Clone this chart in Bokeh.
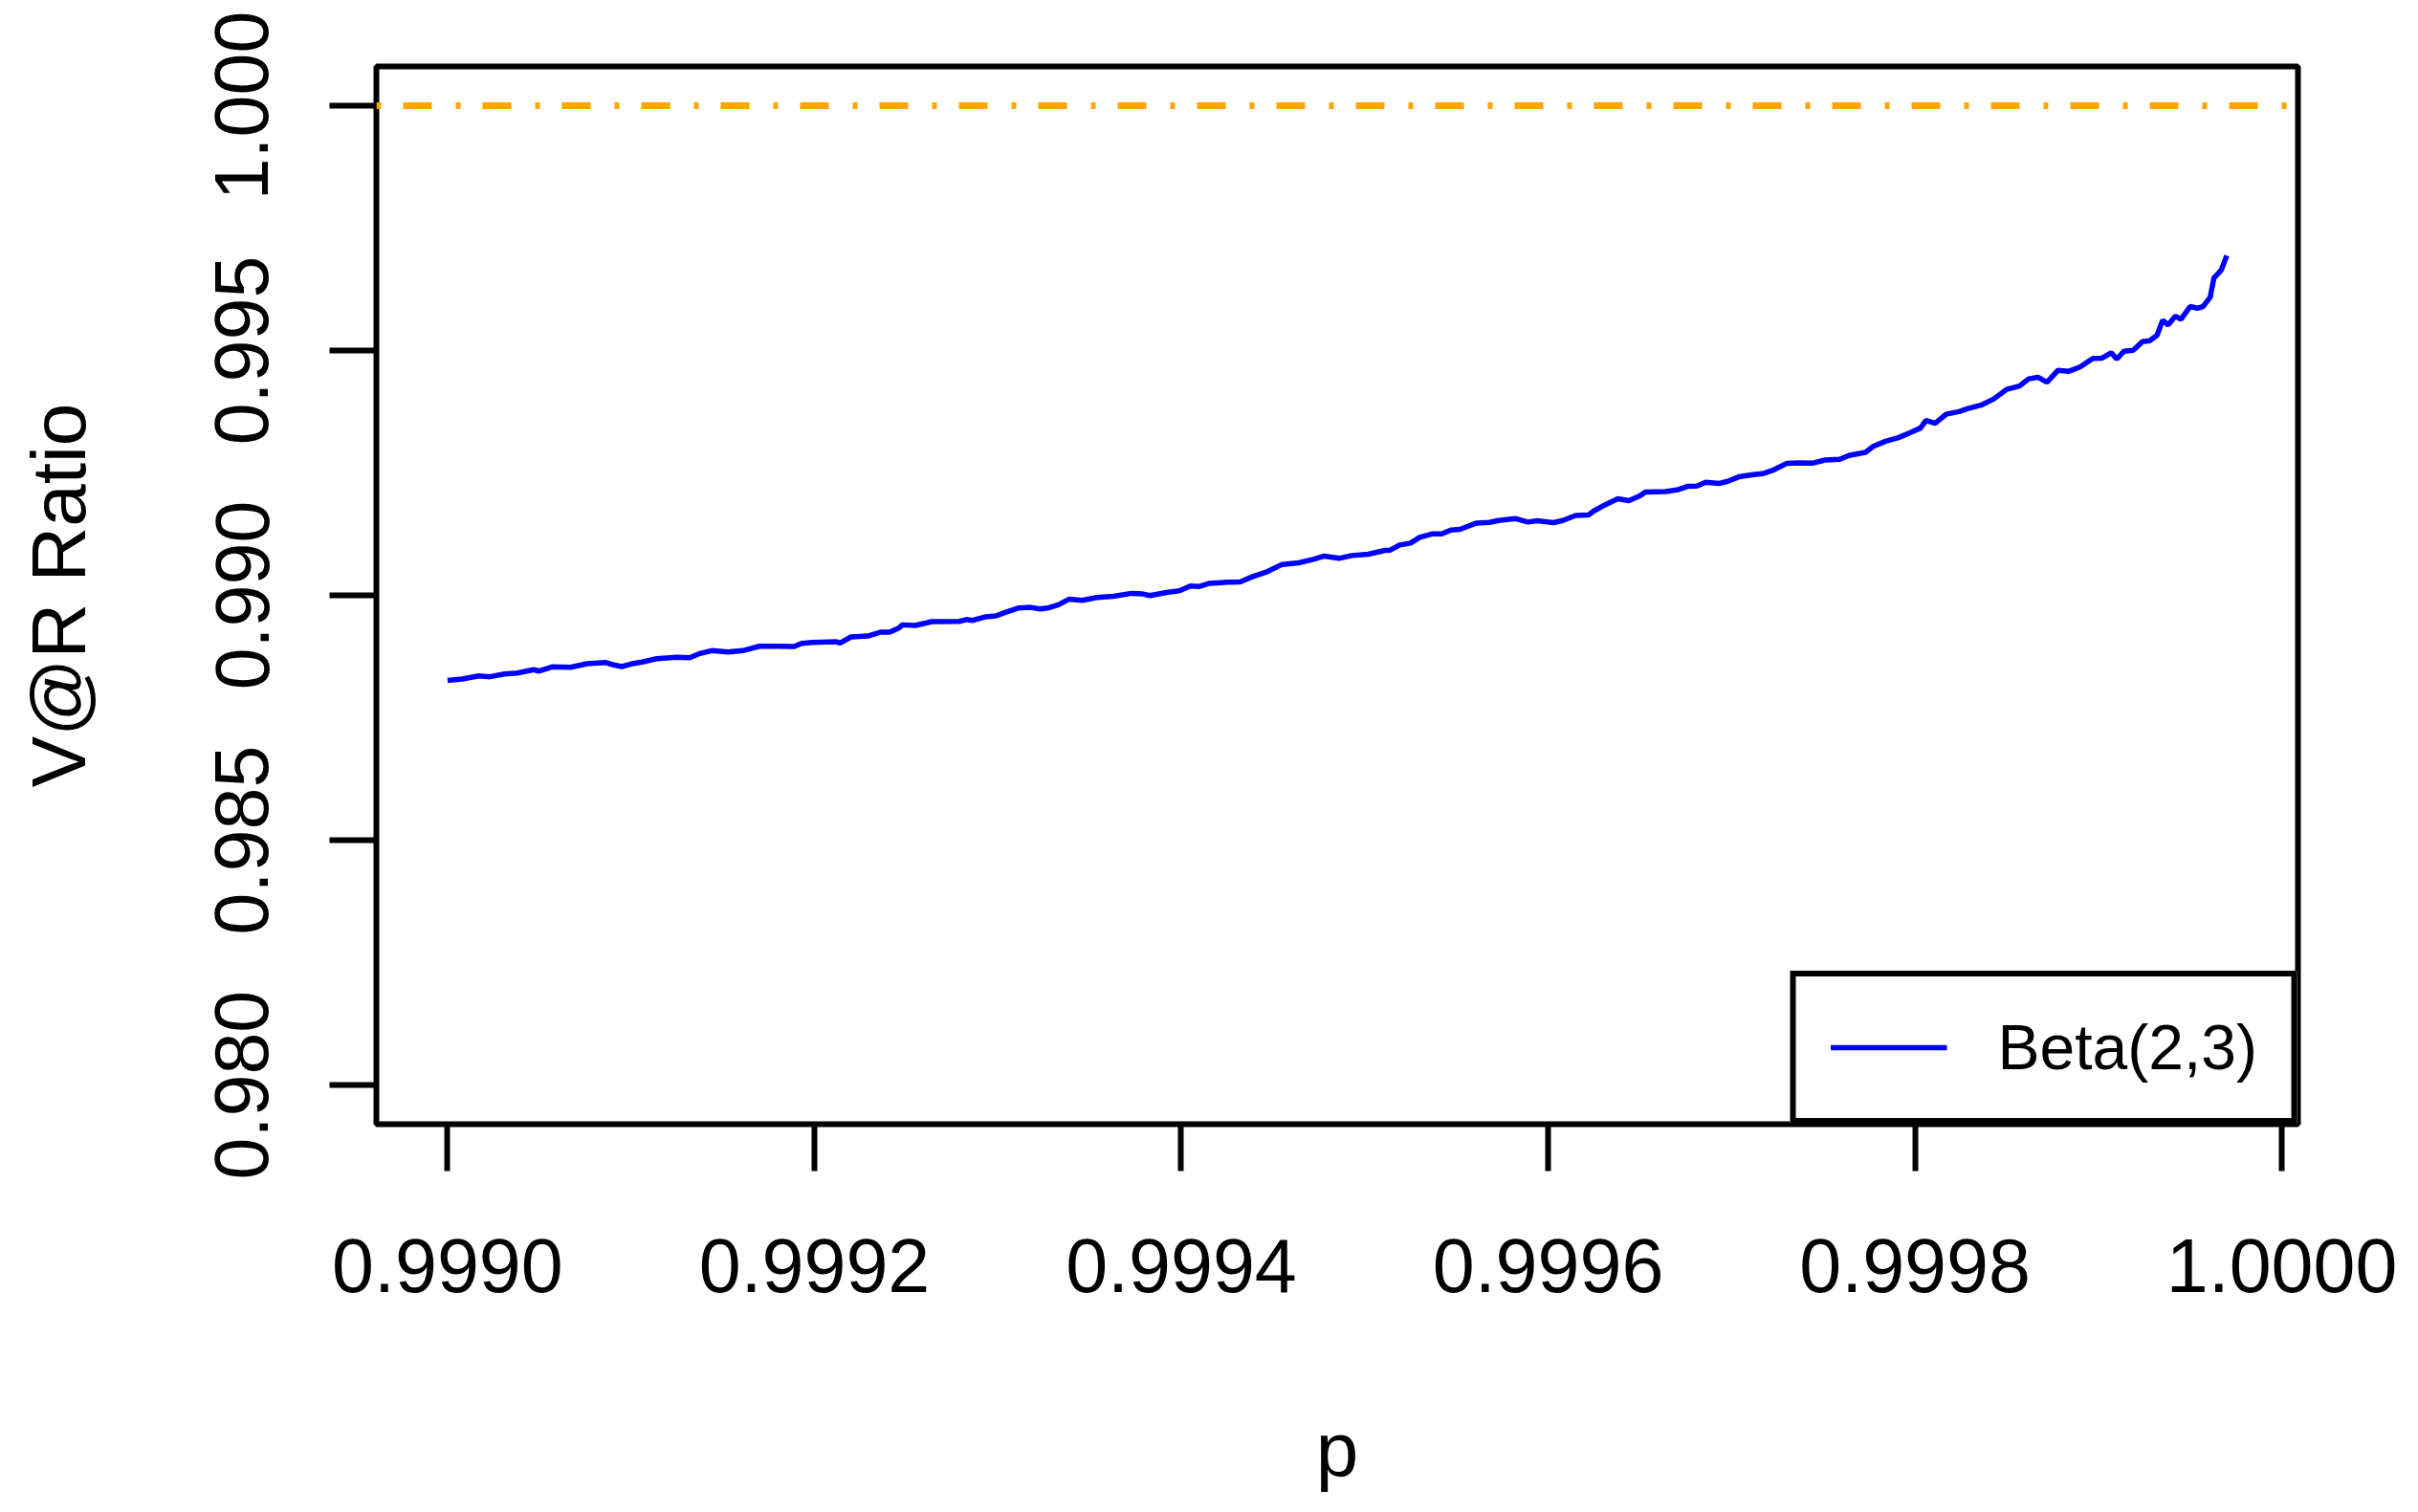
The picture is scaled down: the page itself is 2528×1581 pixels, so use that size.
import math
from bokeh.plotting import figure
from bokeh.models import Range1d, FixedTicker, PrintfTickFormatter, Span, Legend, LegendItem
from bokeh.embed import file_html
from bokeh.resources import INLINE

# ---- data ----
p_vals = [
    0.999000, 0.999008, 0.999017, 0.999023, 0.999031, 0.999038, 0.999047, 0.999050,
    0.999057, 0.999067, 0.999076, 0.999086, 0.999090, 0.999095, 0.999100, 0.999106,
    0.999114, 0.999125, 0.999132, 0.999137, 0.999144, 0.999153, 0.999161, 0.999170,
    0.999180, 0.999189, 0.999193, 0.999199, 0.999212, 0.999214, 0.999220, 0.999229,
    0.999236, 0.999241, 0.999246, 0.999248, 0.999255, 0.999264, 0.999279, 0.999283,
    0.999286, 0.999293, 0.999299, 0.999304, 0.999311, 0.999318, 0.999323, 0.999328,
    0.999333, 0.999339, 0.999346, 0.999354, 0.999363, 0.999373, 0.999379, 0.999383,
    0.999392, 0.999399, 0.999405, 0.999410, 0.999415, 0.999425, 0.999432, 0.999439,
    0.999446, 0.999455, 0.999464, 0.999472, 0.999478, 0.999486, 0.999493, 0.999502,
    0.999511, 0.999514, 0.999519, 0.999525, 0.999530, 0.999537, 0.999542, 0.999547,
    0.999552, 0.999556, 0.999561, 0.999568, 0.999573, 0.999582, 0.999589, 0.999594,
    0.999603, 0.999608, 0.999615, 0.999622, 0.999625, 0.999631, 0.999638, 0.999644,
    0.999650, 0.999653, 0.999664, 0.999671, 0.999676, 0.999681, 0.999686, 0.999693,
    0.999698, 0.999704, 0.999711, 0.999717, 0.999723, 0.999730, 0.999737, 0.999744,
    0.999751, 0.999759, 0.999764, 0.999773, 0.999777, 0.999784, 0.999791, 0.999797,
    0.999803, 0.999806, 0.999811, 0.999817, 0.999824, 0.999829, 0.999836, 0.999843,
    0.999850, 0.999857, 0.999862, 0.999867, 0.999872, 0.999878, 0.999884, 0.999890,
    0.999897, 0.999902, 0.999907, 0.999910, 0.999914, 0.999919, 0.999924, 0.999928,
    0.999932, 0.999935, 0.999938, 0.999942, 0.999945, 0.999950, 0.999954, 0.999957,
    0.999961, 0.999963, 0.999967, 0.999970,
]
var_ratio = [
    0.988260, 0.988292, 0.988356, 0.988337, 0.988395, 0.988414, 0.988481, 0.988453,
    0.988539, 0.988531, 0.988604, 0.988629, 0.988584, 0.988545, 0.988598, 0.988637,
    0.988707, 0.988734, 0.988727, 0.988805, 0.988871, 0.988844, 0.988871, 0.988960,
    0.988960, 0.988955, 0.989019, 0.989039, 0.989052, 0.989027, 0.989150, 0.989169,
    0.989247, 0.989247, 0.989331, 0.989397, 0.989384, 0.989462, 0.989468, 0.989506,
    0.989487, 0.989559, 0.989579, 0.989651, 0.989740, 0.989754, 0.989721, 0.989748,
    0.989807, 0.989924, 0.989897, 0.989955, 0.989982, 0.990041, 0.990027, 0.989994,
    0.990060, 0.990091, 0.990189, 0.990183, 0.990242, 0.990267, 0.990275, 0.990384,
    0.990470, 0.990632, 0.990665, 0.990735, 0.990801, 0.990755, 0.990813, 0.990840,
    0.990918, 0.990924, 0.991028, 0.991067, 0.991184, 0.991256, 0.991256, 0.991334,
    0.991347, 0.991406, 0.991476, 0.991490, 0.991529, 0.991568, 0.991496, 0.991523,
    0.991484, 0.991529, 0.991632, 0.991640, 0.991724, 0.991847, 0.991971, 0.991932,
    0.992030, 0.992108, 0.992120, 0.992159, 0.992225, 0.992231, 0.992309, 0.992283,
    0.992328, 0.992420, 0.992459, 0.992484, 0.992562, 0.992693, 0.992705, 0.992699,
    0.992763, 0.992777, 0.992855, 0.992919, 0.993036, 0.993147, 0.993220, 0.993317,
    0.993415, 0.993571, 0.993512, 0.993699, 0.993752, 0.993816, 0.993883, 0.994011,
    0.994206, 0.994273, 0.994421, 0.994454, 0.994351, 0.994596, 0.994577, 0.994663,
    0.994838, 0.994844, 0.994955, 0.994824, 0.994986, 0.995006, 0.995181, 0.995201,
    0.995312, 0.995618, 0.995521, 0.995702, 0.995638, 0.995897, 0.995864, 0.995897,
    0.996092, 0.996482, 0.996644, 0.996936,
]
series_label = "Beta(2,3)"
reference_level = 1.0
y_limits = [0.980, 1.000]
x_ticks = [0.9990, 0.9992, 0.9994, 0.9996, 0.9998, 1.0000]
y_ticks = [0.980, 0.985, 0.990, 0.995, 1.000]

# R-style 4% axis expansion
xspan = p_vals[-1] - p_vals[0]
yspan = y_limits[1] - y_limits[0]
x_range = Range1d(p_vals[0] - 0.04 * xspan, p_vals[-1] + 0.04 * xspan)
y_range = Range1d(y_limits[0] - 0.04 * yspan, y_limits[1] + 0.04 * yspan)

FONT = "Liberation Sans"
W, H = 2512, 1565

p = figure(width=W, height=H, x_range=x_range, y_range=y_range,
           output_backend="svg", toolbar_location=None,
           min_border_left=393, min_border_right=W - 2402,
           min_border_top=69, min_border_bottom=H - 1175,
           background_fill_color="white", border_fill_color="white")

p.grid.visible = False
p.outline_line_color = "black"
p.outline_line_width = 6
p.outline_line_alpha = 1.0

# axes
for ax in (p.xaxis[0], p.yaxis[0]):
    ax.axis_line_color = None
    ax.major_tick_in = 0
    ax.major_tick_out = 49
    ax.major_tick_line_width = 6
    ax.major_tick_line_color = "black"
    ax.minor_tick_line_color = None
    ax.major_label_text_font = FONT
    ax.major_label_text_font_size = "79px"
    ax.major_label_text_color = "black"
    ax.axis_label_text_font = FONT
    ax.axis_label_text_font_size = "80px"
    ax.axis_label_text_font_style = "normal"
    ax.axis_label_text_color = "black"

p.xaxis[0].ticker = FixedTicker(ticks=x_ticks)
p.xaxis[0].formatter = PrintfTickFormatter(format="%.4f")
p.xaxis[0].major_label_standoff = 71
p.xaxis[0].axis_label = "p"
p.xaxis[0].axis_label_standoff = 117

p.yaxis[0].ticker = FixedTicker(ticks=y_ticks)
p.yaxis[0].formatter = PrintfTickFormatter(format="%.3f")
p.yaxis[0].major_label_orientation = "parallel"
p.yaxis[0].major_label_standoff = 64
p.yaxis[0].axis_label = "V@R Ratio"
p.yaxis[0].axis_label_standoff = 117

# reference line at 1.0 (orange dot-dash)
p.add_layout(Span(location=reference_level, dimension="width",
                  line_color="#FFA500", line_width=7,
                  line_dash="5 23 30 25"))

# data line
r = p.line(p_vals, var_ratio, line_color="#0000FF", line_width=5.5)

legend = Legend(items=[LegendItem(label=series_label, renderers=[r])],
                location="bottom_right", margin=0, padding=36,
                glyph_width=122, glyph_height=40, label_standoff=53,
                label_text_font=FONT, label_text_font_size="66px",
                label_text_color="black",
                border_line_color="black", border_line_width=6,
                border_line_alpha=1.0,
                background_fill_color="white", background_fill_alpha=1.0)
p.add_layout(legend)

open("out.html", "w").write(file_html(p, INLINE))
